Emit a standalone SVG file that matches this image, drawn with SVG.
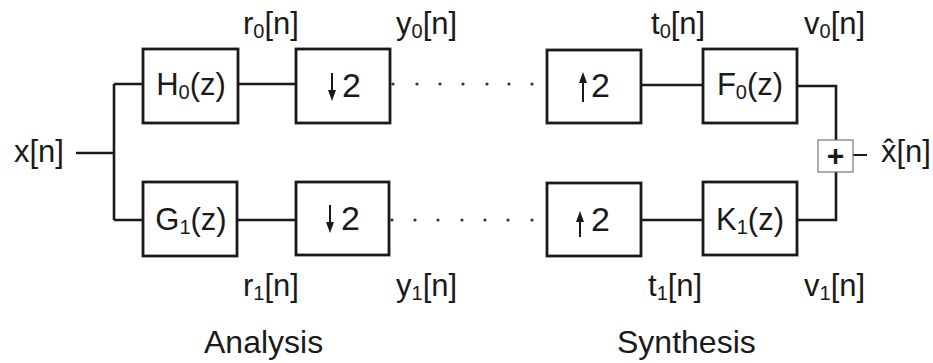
<svg xmlns="http://www.w3.org/2000/svg" width="933" height="363" viewBox="0 0 933 363">
<defs>
<style>
.box{fill:#fff;stroke:#1a1a1a;stroke-width:2.8}
.w{fill:none;stroke:#1a1a1a;stroke-width:2.6}
.ar{stroke:#1a1a1a;stroke-width:2;fill:none}
.hd{fill:#1a1a1a}
.dot{fill:#333}
text{font-family:"Liberation Sans",Arial,sans-serif;font-size:31px;fill:#1a1a1a}
.c{text-anchor:middle}
.s{font-size:20px}
.two{font-size:34px}
</style>
</defs>
<rect width="933" height="363" fill="#fff"/>
<g id="connectors">
<path class="w" d="M76,153 H114 M114,84 V220 M114,84 H143 M114,220 H143"/>
<path class="w" d="M238,84 H296 M237,220 H296"/>
<path class="w" d="M641,85 H703 M641,220 H703"/>
<path class="w" d="M797,86 H836 V140 M797,220 H836 V172"/>
<path d="M853,155 H867" stroke="#1a1a1a" stroke-width="2" fill="none"/>
<g class="dot">
<circle cx="393" cy="84" r="1.6"/><circle cx="417" cy="84" r="1.6"/><circle cx="440" cy="84" r="1.6"/><circle cx="463" cy="84" r="1.6"/><circle cx="487" cy="84" r="1.6"/><circle cx="509" cy="84" r="1.6"/><circle cx="532" cy="84" r="1.6"/>
<circle cx="392" cy="220" r="1.6"/><circle cx="415" cy="220" r="1.6"/><circle cx="438" cy="220" r="1.6"/><circle cx="462" cy="220" r="1.6"/><circle cx="485" cy="220" r="1.6"/><circle cx="508" cy="220" r="1.6"/><circle cx="532" cy="220" r="1.6"/>
</g>
</g>
<g id="H0"><rect class="box" x="143" y="49" width="95" height="74"/><text class="c" x="191" y="95">H<tspan class="s" dy="4">0</tspan><tspan dy="-4">(z)</tspan></text></g>
<g id="G1"><rect class="box" x="143" y="182" width="94" height="74"/><text class="c" x="191" y="230">G<tspan class="s" dy="4">1</tspan><tspan dy="-4">(z)</tspan></text></g>
<g id="down0"><rect class="box" x="296" y="49" width="94" height="74"/><path class="ar" d="M332,73 V92"/><path class="hd" d="M328,90 L336,90 L332,101 z"/><text class="two" x="342" y="97">2</text></g>
<g id="down1"><rect class="box" x="296" y="182" width="93" height="73"/><path class="ar" d="M330,205 V224"/><path class="hd" d="M326,222 L334,222 L330,233 z"/><text class="two" x="341" y="230">2</text></g>
<g id="up0"><rect class="box" x="547" y="50" width="94" height="73"/><path class="ar" d="M583,82 V102"/><path class="hd" d="M583,72 L579,83 L587,83 z"/><text class="two" x="591" y="97">2</text></g>
<g id="up1"><rect class="box" x="547" y="183" width="94" height="73"/><path class="ar" d="M580,222 V237"/><path class="hd" d="M580,211 L576,222 L584,222 z"/><text class="two" x="591" y="231">2</text></g>
<g id="F0"><rect class="box" x="703" y="49" width="94" height="74"/><text class="c" x="750" y="95">F<tspan class="s" dy="4">0</tspan><tspan dy="-4">(z)</tspan></text></g>
<g id="K1"><rect class="box" x="703" y="182" width="94" height="73"/><text class="c" x="750" y="230">K<tspan class="s" dy="4">1</tspan><tspan dy="-4">(z)</tspan></text></g>
<g id="sum"><rect x="818" y="140" width="35" height="32" fill="#fff" stroke="#777" stroke-width="1.2"/><text class="c" x="835.5" y="166" style="font-size:30px;font-weight:bold">+</text></g>
<g id="labels">
<text x="14" y="162">x[n]</text>
<text x="881" y="162">x&#x302;[n]</text>
<text x="243" y="34">r<tspan class="s" dy="4">0</tspan><tspan dy="-4">[n]</tspan></text>
<text x="396" y="34">y<tspan class="s" dy="4">0</tspan><tspan dy="-4">[n]</tspan></text>
<text x="651" y="34">t<tspan class="s" dy="4">0</tspan><tspan dy="-4">[n]</tspan></text>
<text x="804" y="34">v<tspan class="s" dy="4">0</tspan><tspan dy="-4">[n]</tspan></text>
<text x="243" y="296">r<tspan class="s" dy="4">1</tspan><tspan dy="-4">[n]</tspan></text>
<text x="396" y="296">y<tspan class="s" dy="4">1</tspan><tspan dy="-4">[n]</tspan></text>
<text x="648" y="296">t<tspan class="s" dy="4">1</tspan><tspan dy="-4">[n]</tspan></text>
<text x="804" y="296">v<tspan class="s" dy="4">1</tspan><tspan dy="-4">[n]</tspan></text>
<text x="204" y="353" style="font-size:32px">Analysis</text>
<text x="617" y="353" style="font-size:32px">Synthesis</text>
</g>
</svg>
